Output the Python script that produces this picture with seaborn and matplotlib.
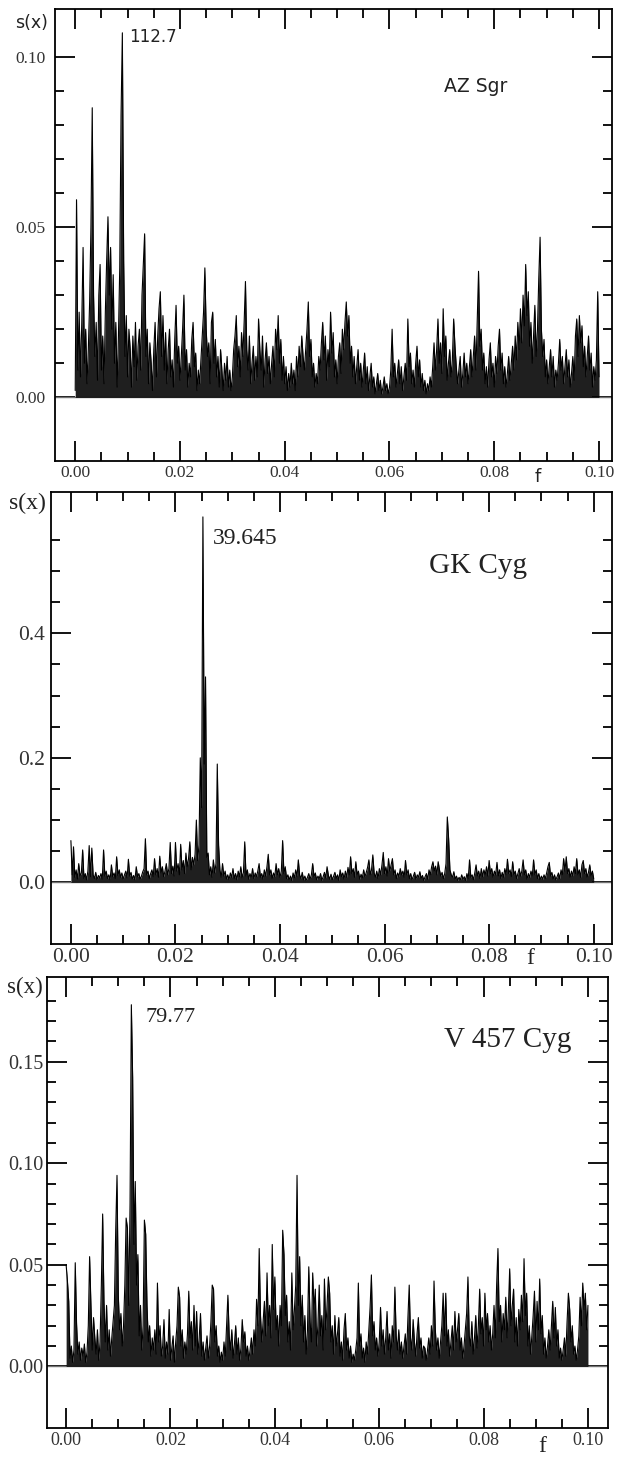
import numpy as np
import pandas as pd
import matplotlib
matplotlib.use("Agg")
import matplotlib.pyplot as plt
import seaborn as sns

# ---------------------------------------------------------------- data
# frequency grid (1/day): 401 samples, step 0.00025, from 0.00 to 0.10
FREQ_STEP = 0.00025
N_POINTS = 401

# amplitudes s(x), written in units of 1e-3
az_sgr_milli = [
    2, 58, 8, 25, 6, 22, 44, 10, 20, 4, 14, 28, 50, 85, 30, 12, 22, 5, 30, 39,
    8, 18, 4, 25, 40, 53, 30, 44, 20, 36, 10, 22, 3, 18, 38, 83, 107, 40, 12, 24,
    6, 20, 14, 3, 18, 9, 22, 5, 15, 20, 8, 30, 39, 48, 12, 20, 4, 16, 10, 2,
    14, 22, 6, 18, 26, 31, 12, 24, 8, 19, 4, 14, 20, 6, 11, 3, 17, 27, 10, 15,
    5, 12, 20, 30, 8, 14, 3, 10, 6, 17, 22, 9, 13, 2, 8, 4, 11, 18, 25, 38,
    20, 12, 16, 4, 22, 25, 10, 17, 6, 12, 3, 14, 8, 2, 10, 5, 12, 3, 8, 2,
    6, 14, 18, 24, 9, 15, 6, 19, 12, 22, 34, 14, 8, 18, 4, 10, 15, 5, 12, 6,
    23, 14, 8, 18, 3, 11, 16, 7, 12, 4, 10, 15, 6, 20, 14, 24, 10, 17, 5, 12,
    4, 9, 2, 7, 3, 10, 4, 8, 2, 12, 6, 15, 9, 18, 12, 8, 14, 20, 28, 12,
    17, 6, 10, 3, 7, 4, 12, 8, 16, 22, 11, 18, 5, 14, 9, 25, 13, 19, 6, 11,
    4, 12, 16, 7, 20, 14, 22, 28, 18, 24, 10, 15, 6, 12, 4, 9, 14, 5, 10, 3,
    8, 13, 4, 9, 2, 6, 10, 3, 6, 1, 4, 7, 2, 5, 1, 3, 6, 2, 4, 1,
    3, 8, 20, 6, 10, 3, 7, 11, 4, 9, 2, 6, 10, 5, 23, 9, 13, 4, 8, 3,
    10, 15, 6, 11, 3, 7, 2, 5, 1, 4, 2, 6, 3, 9, 16, 8, 14, 23, 10, 16,
    7, 26, 12, 18, 5, 10, 14, 6, 11, 23, 15, 9, 4, 8, 12, 3, 7, 13, 6, 10,
    4, 9, 14, 6, 12, 18, 8, 22, 37, 15, 20, 8, 13, 4, 9, 3, 11, 16, 6, 10,
    3, 12, 7, 15, 20, 8, 13, 4, 9, 3, 7, 12, 5, 10, 15, 8, 18, 11, 22, 14,
    26, 16, 30, 21, 39, 24, 31, 15, 22, 10, 18, 27, 12, 20, 35, 47, 20, 12, 17, 6,
    11, 4, 9, 14, 6, 12, 3, 8, 5, 10, 17, 8, 12, 4, 9, 14, 6, 11, 3, 7,
    12, 5, 18, 23, 12, 24, 16, 21, 9, 15, 6, 12, 18, 8, 13, 3, 9, 5, 11, 31, 6,
]

gk_cyg_milli = [
    67, 12, 57, 8, 20, 5, 30, 10, 15, 52, 6, 14, 4, 18, 59, 9, 55, 12, 6, 16,
    4, 11, 7, 14, 5, 52, 10, 18, 6, 12, 4, 28, 9, 15, 6, 41, 11, 20, 8, 15,
    5, 12, 18, 7, 37, 10, 16, 5, 11, 4, 25, 9, 14, 5, 10, 17, 22, 70, 12, 18,
    6, 14, 20, 9, 38, 12, 22, 8, 42, 15, 25, 9, 18, 30, 12, 22, 64, 14, 26, 10,
    64, 18, 30, 12, 61, 20, 35, 14, 47, 25, 38, 65, 20, 40, 28, 45, 100, 35, 60, 200,
    120, 587, 190, 330, 40, 47, 12, 25, 8, 36, 15, 30, 190, 60, 20, 8, 30, 10, 18, 5,
    12, 4, 15, 8, 22, 6, 14, 4, 18, 9, 25, 7, 16, 65, 10, 20, 5, 14, 8, 22,
    6, 15, 9, 18, 30, 8, 14, 5, 20, 10, 25, 45, 12, 20, 6, 15, 9, 30, 12, 22,
    8, 18, 67, 14, 25, 6, 12, 4, 10, 3, 15, 7, 20, 9, 36, 12, 6, 16, 4, 10,
    3, 8, 14, 5, 12, 30, 9, 15, 4, 10, 6, 14, 3, 9, 16, 7, 25, 11, 5, 13,
    4, 10, 16, 6, 12, 3, 20, 9, 15, 5, 18, 8, 24, 12, 41, 14, 22, 8, 33, 12,
    18, 5, 13, 7, 20, 9, 16, 24, 36, 12, 20, 44, 15, 8, 18, 6, 22, 12, 28, 48,
    14, 25, 10, 38, 18, 28, 38, 12, 20, 6, 15, 9, 22, 12, 18, 8, 35, 12, 20, 6,
    14, 4, 10, 16, 5, 12, 8, 17, 6, 11, 3, 9, 14, 5, 20, 12, 25, 33, 18, 26,
    12, 33, 20, 10, 16, 6, 14, 30, 105, 70, 20, 12, 8, 17, 5, 10, 3, 8, 4, 12,
    5, 9, 3, 14, 6, 36, 8, 12, 4, 15, 28, 10, 18, 6, 22, 9, 20, 12, 25, 10,
    35, 14, 22, 8, 18, 12, 32, 10, 20, 6, 16, 8, 22, 12, 37, 14, 20, 9, 33, 12,
    18, 6, 14, 22, 10, 18, 36, 12, 20, 5, 14, 8, 18, 10, 36, 12, 20, 6, 14, 4,
    10, 5, 12, 6, 15, 25, 32, 10, 16, 5, 12, 4, 9, 15, 6, 20, 12, 38, 18, 41,
    14, 22, 8, 18, 10, 25, 14, 38, 12, 20, 8, 28, 35, 14, 22, 8, 16, 28, 10, 18, 6,
]

v457_cyg_milli = [
    50, 42, 32, 4, 10, 2, 8, 51, 21, 6, 12, 3, 9, 5, 11, 2, 7, 20, 54, 30,
    8, 24, 14, 6, 18, 3, 12, 40, 75, 32, 12, 30, 8, 18, 5, 14, 22, 30, 67, 94,
    35, 18, 26, 10, 20, 40, 73, 68, 30, 80, 178, 142, 60, 91, 40, 55, 15, 30, 8, 20,
    72, 65, 30, 12, 20, 5, 14, 8, 18, 6, 41, 12, 20, 5, 10, 23, 4, 12, 6, 28,
    3, 9, 15, 2, 12, 20, 39, 34, 10, 18, 4, 12, 6, 16, 37, 14, 22, 8, 30, 10,
    27, 6, 14, 26, 5, 12, 3, 9, 15, 4, 10, 22, 40, 38, 12, 20, 5, 10, 2, 7,
    3, 12, 5, 20, 35, 15, 8, 18, 4, 11, 20, 6, 14, 3, 9, 23, 12, 17, 5, 10,
    3, 8, 14, 6, 18, 10, 33, 20, 58, 25, 12, 22, 32, 15, 46, 20, 30, 14, 60, 28,
    44, 18, 25, 10, 30, 20, 67, 55, 25, 35, 12, 22, 8, 46, 18, 28, 40, 94, 30, 54,
    20, 35, 12, 25, 6, 18, 49, 22, 12, 46, 28, 38, 10, 20, 40, 15, 25, 8, 43, 18,
    30, 44, 36, 12, 20, 6, 25, 10, 16, 24, 5, 12, 3, 18, 26, 8, 14, 4, 10, 2,
    6, 3, 8, 14, 41, 10, 16, 4, 9, 2, 12, 6, 18, 29, 45, 15, 22, 8, 14, 5,
    12, 29, 10, 18, 6, 14, 27, 8, 16, 4, 20, 12, 39, 15, 8, 18, 6, 12, 4, 10,
    16, 6, 24, 40, 14, 8, 23, 12, 5, 16, 24, 9, 14, 4, 10, 9, 3, 8, 14, 6,
    20, 10, 42, 18, 8, 14, 4, 12, 20, 36, 15, 36, 10, 18, 5, 12, 20, 8, 27, 12,
    18, 26, 8, 14, 4, 10, 18, 26, 44, 15, 10, 22, 6, 14, 25, 9, 20, 38, 16, 24,
    10, 36, 18, 26, 12, 20, 8, 16, 30, 14, 40, 58, 22, 30, 12, 26, 18, 34, 14, 28,
    48, 20, 30, 38, 12, 24, 10, 28, 18, 35, 22, 53, 25, 36, 10, 20, 6, 15, 25, 37,
    12, 32, 18, 43, 16, 25, 6, 14, 4, 10, 18, 8, 20, 32, 14, 29, 10, 18, 4, 9,
    3, 8, 14, 5, 22, 36, 28, 12, 20, 6, 10, 3, 8, 15, 34, 20, 41, 28, 36, 18, 30,
]

star_names = ["AZ Sgr", "GK Cyg", "V 457 Cyg"]
peak_labels = ["112.7", "39.645", "79.77"]

x_ticks = [0.00, 0.02, 0.04, 0.06, 0.08, 0.10]
x_tick_labels = ["0.00", "0.02", "0.04", "0.06", "0.08", "0.10"]
x_minor_ticks = [0.005, 0.01, 0.015, 0.025, 0.03, 0.035, 0.045, 0.05, 0.055,
                 0.065, 0.07, 0.075, 0.085, 0.09, 0.095]

az_y_ticks = [0.00, 0.05, 0.10]
az_y_labels = ["0.00", "0.05", "0.10"]
az_y_minor = [0.01, 0.02, 0.03, 0.04, 0.06, 0.07, 0.08, 0.09]

gk_y_ticks = [0.0, 0.2, 0.4]
gk_y_labels = ["0.0", "0.2", "0.4"]
gk_y_minor = [0.05, 0.10, 0.15, 0.25, 0.30, 0.35, 0.45, 0.50, 0.55]

v4_y_ticks = [0.00, 0.05, 0.10, 0.15]
v4_y_labels = ["0.00", "0.05", "0.10", "0.15"]
v4_y_minor = [0.01, 0.02, 0.03, 0.04, 0.06, 0.07, 0.08, 0.09,
              0.11, 0.12, 0.13, 0.14, 0.16, 0.17, 0.18]

freq = np.arange(N_POINTS) * FREQ_STEP
spectra = pd.DataFrame({
    "f": freq,
    "AZ Sgr": np.array(az_sgr_milli) / 1000.0,
    "GK Cyg": np.array(gk_cyg_milli) / 1000.0,
    "V 457 Cyg": np.array(v457_cyg_milli) / 1000.0,
})

# ---------------------------------------------------------------- style
sns.set_style("white")
SERIF = ["Liberation Serif", "DejaVu Serif"]
SANS = ["DejaVu Sans"]
plt.rcParams["font.family"] = SERIF

W, H = 617, 1459
fig = plt.figure(figsize=(W / 100, H / 100), dpi=100)


def fx(px):
    return px / W


def fy(py):
    return 1 - py / H


panels = [
    dict(name="AZ Sgr", rect=(55, 9.3, 612, 460.7),
         xlim=(-0.00386, 0.10248), ylim=(-0.0186, 0.1139),
         yt=az_y_ticks, yl=az_y_labels, ym=az_y_minor,
         xfs=12.5, yfs=12.5, ypad=7, xpad=3, tfont=SERIF,
         lab_font=SANS,
         sx=(32, 23, 12.5), peak=(153, 37, 12), star=(476, 86, 13.5), f=(538, 477, 13)),
    dict(name="GK Cyg", rect=(50.5, 492, 612, 944.3),
         xlim=(-0.0039, 0.1035), ylim=(-0.0996, 0.627),
         yt=gk_y_ticks, yl=gk_y_labels, ym=gk_y_minor,
         xfs=15.5, yfs=15.5, ypad=4, xpad=3, tfont=SERIF,
         lab_font=SERIF,
         sx=(27, 503, 17), peak=(245, 538, 17), star=(478, 566, 21), f=(530, 958, 17)),
    dict(name="V 457 Cyg", rect=(46.5, 976.7, 608.3, 1428.3),
         xlim=(-0.00376, 0.1039), ylim=(-0.0305, 0.1918),
         yt=v4_y_ticks, yl=v4_y_labels, ym=v4_y_minor,
         xfs=13, yfs=14.5, ypad=2, xpad=3, tfont=SERIF,
         lab_font=SERIF,
         sx=(25, 987, 16.5), peak=(171, 1017, 16), star=(508, 1040, 21), f=(542, 1446, 17)),
]

for k, p in enumerate(panels):
    x0, y0, x1, y1 = p["rect"]
    ax = fig.add_axes([fx(x0), fy(y1), (x1 - x0) / W, (y1 - y0) / H])
    ax.axhline(0, color="0.45", lw=1.0, zorder=1)
    # dense periodogram: dark mass under the curve plus the curve itself
    ax.fill_between(spectra["f"], 0, spectra[p["name"]], color="black",
                    alpha=0.88, lw=0, zorder=2)
    sns.lineplot(data=spectra, x="f", y=p["name"], ax=ax, color="black",
                 lw=0.8, zorder=3, estimator=None)
    ax.set_xlim(*p["xlim"])
    ax.set_ylim(*p["ylim"])
    ax.set_xlabel("")
    ax.set_ylabel("")
    ax.set_xticks(x_ticks, labels=x_tick_labels)
    ax.set_xticks(x_minor_ticks, minor=True)
    ax.set_yticks(p["yt"], labels=p["yl"])
    ax.set_yticks(p["ym"], minor=True)
    ax.tick_params(which="both", direction="in", top=True, right=True,
                   bottom=True, left=True,
                   labeltop=False, labelright=False, labelbottom=True,
                   labelleft=True, width=1.3, color="black")
    ax.tick_params(which="major", length=14.4)
    ax.tick_params(which="minor", length=6.5)
    ax.tick_params(axis="x", which="major", pad=p["xpad"], labelsize=p["xfs"])
    ax.tick_params(axis="y", which="major", pad=p["ypad"], labelsize=p["yfs"])
    for lab in ax.get_xticklabels() + ax.get_yticklabels():
        lab.set_family(p["tfont"])
        lab.set_color("#333333")
    for sp in ax.spines.values():
        sp.set_linewidth(1.3)
        sp.set_color("black")

    sxx, sxy, sxs = p["sx"]
    fig.text(fx(sxx), fy(sxy), "s(x)", ha="center", va="center",
             fontsize=sxs, family=p["lab_font"], color="#222222")
    pkx, pky, pks = p["peak"]
    fig.text(fx(pkx), fy(pky), peak_labels[k], ha="center", va="center",
             fontsize=pks, family=p["lab_font"], color="#222222")
    stx, sty, sts = p["star"]
    fig.text(fx(stx), fy(sty), star_names[k], ha="center", va="center",
             fontsize=sts, family=p["lab_font"], color="#222222")
    ffx, ffy, ffs = p["f"]
    fig.text(fx(ffx), fy(ffy), "f", ha="center", va="center",
             fontsize=ffs, family=p["lab_font"], color="#222222")

fig.savefig("out.png", dpi=100, facecolor="white")
